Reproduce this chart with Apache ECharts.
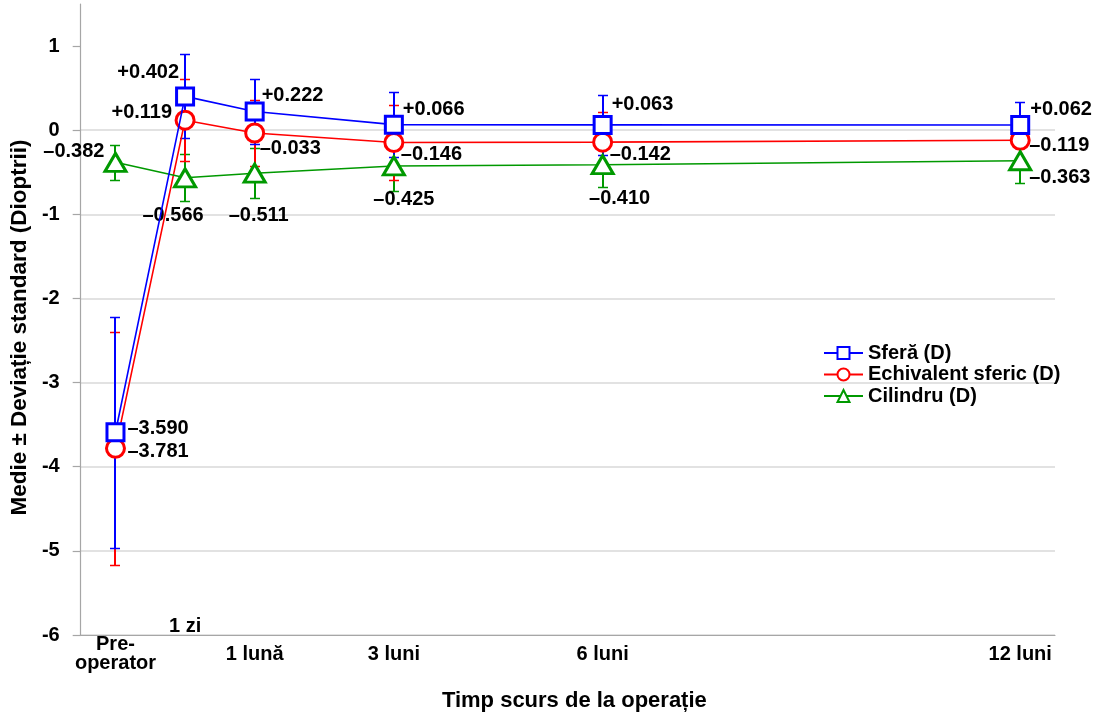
<!DOCTYPE html>
<html>
<head>
<meta charset="utf-8">
<script src="https://cdn.jsdelivr.net/npm/echarts@6/dist/echarts.min.js"></script>
<style>
  html, body { margin: 0; padding: 0; background: #fff; }
  #chart { width: 1099px; height: 719px; }
</style>
</head>
<body>
<div id="chart"></div>
<script>
// Time after surgery, in months (pre-op placed one month before surgery)
const timepoints = [-1, 0, 1, 3, 6, 12];
const tickLabels = ['Pre-\noperator', '1 zi', '1 lună', '3 luni', '6 luni', '12 luni'];
const yTicks = [-6, -5, -4, -3, -2, -1, 0, 1];

// Means (D)
const sferaMean = [-3.590, 0.402, 0.222, 0.066, 0.063, 0.062];
const echivMean = [-3.781, 0.119, -0.033, -0.146, -0.142, -0.119];
const cilMean   = [-0.382, -0.566, -0.511, -0.425, -0.410, -0.363];

// Standard deviations (D)
const sferaSD = [1.37, 0.50, 0.39, 0.39, 0.36, 0.27];
const echivSD = [1.385, 0.49, 0.39, 0.44, 0.36, 0.25];
const cilSD   = [0.21, 0.28, 0.30, 0.30, 0.27, 0.27];

const seriesNames = ['Sferă (D)', 'Echivalent sferic (D)', 'Cilindru (D)'];

// Value-label placement per point: [align, dx, dy] relative to the marker centre
const sferaLabelPos = [['left', 12, -4], ['right', -6, -24], ['left', 7, -16], ['left', 9, -15], ['left', 9, -20], ['left', 10, -15]];
const echivLabelPos = [['left', 12, 3], ['right', -13, -8], ['left', 5, 16], ['left', 7, 12], ['left', 7, 12], ['left', 9, 5]];
const cilLabelPos   = [['right', -11, -11], ['center', -12, 38], ['center', 4, 42], ['center', 10, 34], ['center', 17, 34], ['left', 9, 17]];

const FONT = 'Liberation Sans, Arial, sans-serif';
const BLUE = '#0000ff', RED = '#ff0000', GREEN = '#009900';
const AXIS_GREY = '#a6a6a6';

function fmtValue(v) {
  const s = Math.abs(v).toFixed(3);
  return v > 0 ? '+' + s : '\u2013' + s;
}

function lineData(means, placement) {
  return means.map((m, i) => ({
    value: [timepoints[i], m],
    label: {
      show: true,
      position: 'inside',
      align: placement[i][0],
      verticalAlign: 'middle',
      offset: [placement[i][1], placement[i][2]],
      formatter: fmtValue(m)
    }
  }));
}

function errData(means, sds) {
  return means.map((m, i) => [timepoints[i], m, sds[i]]);
}

function errorBarSeries(name, means, sds, color, z) {
  return {
    type: 'custom',
    name: name + ' SD',
    z: z,
    silent: true,
    encode: { x: 0, y: 1 },
    data: errData(means, sds),
    renderItem: function (params, api) {
      const x = api.value(0), m = api.value(1), s = api.value(2);
      const top = api.coord([x, m + s]);
      const bot = api.coord([x, m - s]);
      const cx = Math.round(top[0]);
      const ty = Math.round(top[1]) + 0.5, by = Math.round(bot[1]) + 0.5;
      const hw = 5;
      const st = { stroke: color, lineWidth: 2 };
      return {
        type: 'group',
        children: [
          { type: 'line', shape: { x1: cx, y1: ty, x2: cx, y2: by }, style: st },
          { type: 'line', shape: { x1: cx - hw, y1: ty, x2: cx + hw, y2: ty }, style: { stroke: color, lineWidth: 1.5 } },
          { type: 'line', shape: { x1: cx - hw, y1: by, x2: cx + hw, y2: by }, style: { stroke: color, lineWidth: 1.5 } }
        ]
      };
    }
  };
}

function lineSeries(name, means, placement, color, symbol, size, z) {
  return {
    type: 'line',
    name: name,
    z: z,
    data: lineData(means, placement),
    symbol: symbol,
    symbolSize: size,
    showAllSymbol: true,
    lineStyle: { color: color, width: 1.6 },
    itemStyle: { color: '#ffffff', borderColor: color, borderWidth: 3 },
    label: { color: '#000', fontFamily: FONT, fontWeight: 'bold', fontSize: 20 },
    emphasis: { disabled: true },
    animation: false
  };
}

const chart = echarts.init(document.getElementById('chart'), null, { renderer: 'canvas' });

chart.setOption({
  animation: false,
  backgroundColor: '#ffffff',
  grid: { left: 80, right: 44, top: 4, bottom: 84, containLabel: false },
  legend: {
    orient: 'vertical',
    left: 823,
    top: 343,
    padding: 0,
    itemWidth: 39,
    itemHeight: 15,
    itemGap: 1.5,
    data: seriesNames,
    textStyle: { color: '#000', fontFamily: FONT, fontWeight: 'bold', fontSize: 20 }
  },
  xAxis: [
    {
      type: 'value',
      min: -1.5,
      max: 12.5,
      name: 'Timp scurs de la operație',
      nameLocation: 'middle',
      nameGap: 55,
      nameTextStyle: { color: '#000', fontFamily: FONT, fontWeight: 'bold', fontSize: 22, padding: [0, 0, 0, 13] },
      axisLine: { show: true, onZero: false, lineStyle: { color: AXIS_GREY, width: 1.2 } },
      axisTick: { show: false },
      splitLine: { show: false },
      axisLabel: {
        customValues: [-1, 1, 3, 6, 12],
        formatter: function (v) {
          const i = timepoints.indexOf(v);
          if (i < 0) return '';
          const lines = tickLabels[i].split('\n');
          return lines.length > 1
            ? lines.map(s => '{two|' + s + '}').join('\n')
            : '{one|' + lines[0] + '}';
        },
        margin: 0,
        rich: {
          one: { color: '#000', fontFamily: FONT, fontWeight: 'bold', fontSize: 20, lineHeight: 38 },
          two: { color: '#000', fontFamily: FONT, fontWeight: 'bold', fontSize: 20, lineHeight: 19 }
        },
        color: '#000', fontFamily: FONT, fontWeight: 'bold', fontSize: 20
      }
    },
    {
      // the "1 zi" tick sits just above the axis line
      type: 'value',
      min: -1.5,
      max: 12.5,
      position: 'bottom',
      offset: -19,
      axisLine: { show: false, onZero: false },
      axisTick: { show: false },
      splitLine: { show: false },
      axisLabel: {
        customValues: [0],
        margin: 0,
        formatter: function (v) {
          const i = timepoints.indexOf(v);
          return i >= 0 ? tickLabels[i] : '';
        },
        color: '#000', fontFamily: FONT, fontWeight: 'bold', fontSize: 20
      }
    }
  ],
  yAxis: {
    type: 'value',
    min: -6,
    max: 1.5,
    interval: 1,
    name: 'Medie ± Deviație standard (Dioptrii)',
    nameLocation: 'middle',
    nameGap: 47,
    nameRotate: 90,
    nameTextStyle: { color: '#000', fontFamily: FONT, fontWeight: 'bold', fontSize: 22.5, padding: [0, 16, 0, 0] },
    axisLine: { show: true, onZero: false, lineStyle: { color: AXIS_GREY, width: 1.2 } },
    axisTick: { show: true, inside: false, length: 8, customValues: yTicks, lineStyle: { color: AXIS_GREY, width: 1.2 } },
    splitLine: { show: true, showMaxLine: false, lineStyle: { color: '#d9d9d9', width: 1.5 } },
    axisLabel: {
      customValues: yTicks,
      margin: 21,
      formatter: function (v) { return String(v); },
      color: '#000', fontFamily: FONT, fontWeight: 'bold', fontSize: 20
    }
  },
  series: [
    errorBarSeries(seriesNames[2], cilMean, cilSD, GREEN, 1),
    errorBarSeries(seriesNames[1], echivMean, echivSD, RED, 1),
    errorBarSeries(seriesNames[0], sferaMean, sferaSD, BLUE, 1),
    lineSeries(seriesNames[1], echivMean, echivLabelPos, RED, 'circle', 18, 3),
    lineSeries(seriesNames[2], cilMean, cilLabelPos, GREEN, 'triangle', [21, 18], 4),
    lineSeries(seriesNames[0], sferaMean, sferaLabelPos, BLUE, 'rect', 17, 5)
  ]
});
</script>
</body>
</html>
